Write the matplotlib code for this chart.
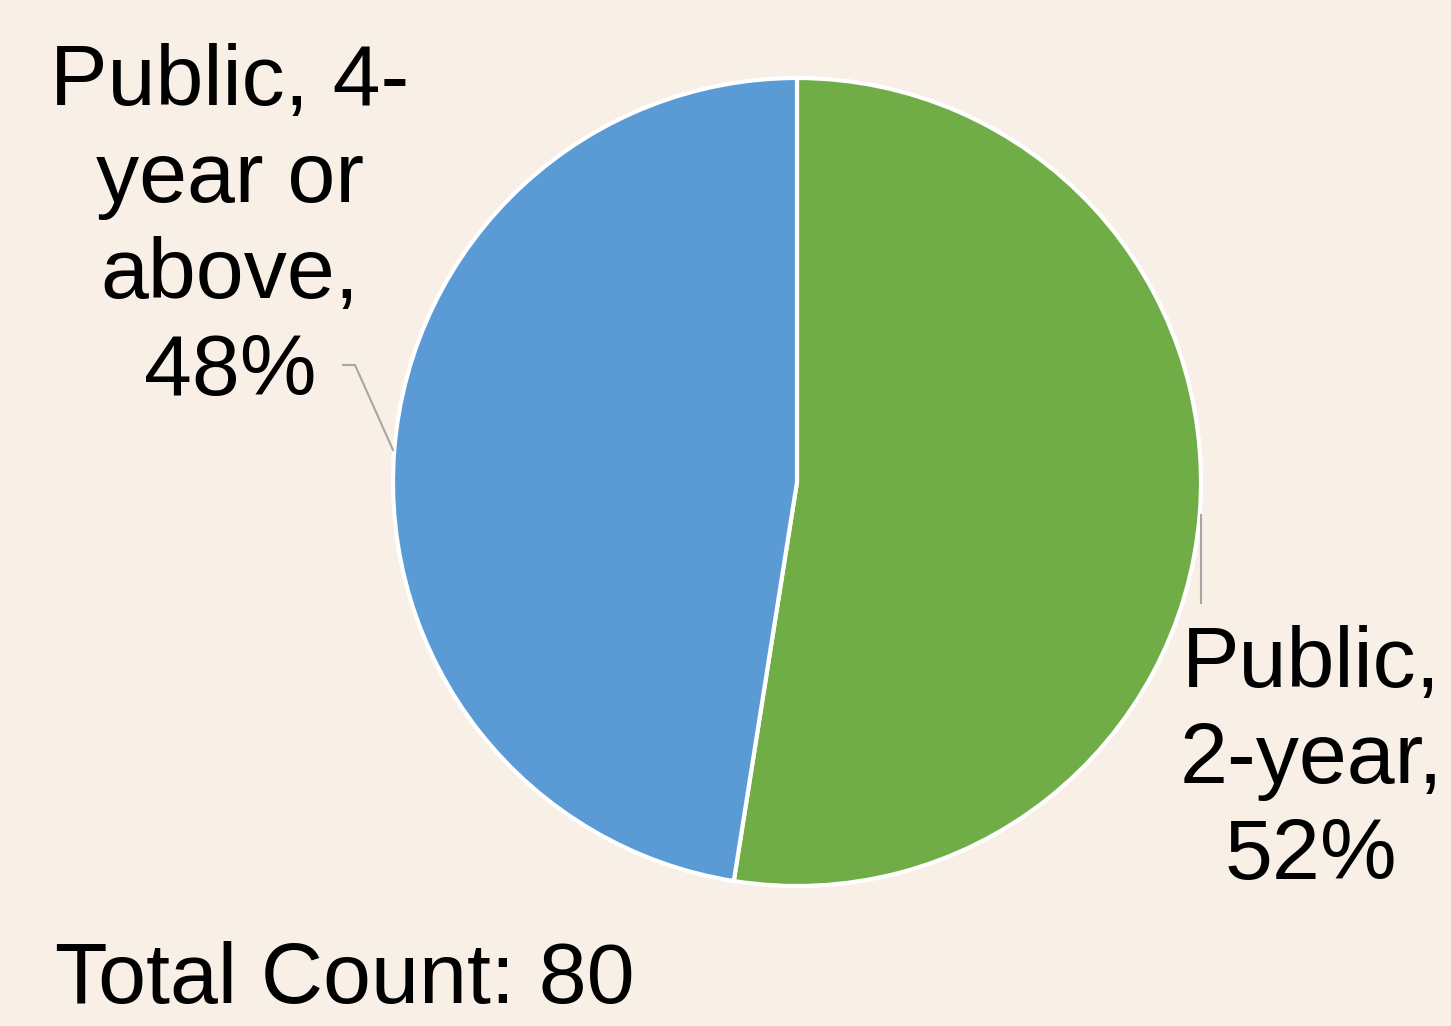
import matplotlib.pyplot as plt

plt.rcParams['font.family'] = ['Liberation Sans', 'DejaVu Sans']

labels = ["Public, 2-year", "Public, 4-year or above"]
counts = [42, 38]
colors = ['#70AD47', '#5B9BD5']
total = sum(counts)
pcts = [round(100 * c / total) for c in counts]

W, H = 1451, 1026
fig = plt.figure(figsize=(W / 100, H / 100), dpi=100)
fig.patch.set_facecolor('#F8F0E7')
ax = fig.add_axes([0, 0, 1, 1])

# pie centre / radius in pixels (y up)
cx, cy, r = 797, H - 482, 404
ax.pie(counts, colors=colors, startangle=90, counterclock=False,
       center=(cx, cy), radius=r, frame=True,
       wedgeprops=dict(edgecolor='white', linewidth=3))
ax.set_xlim(0, W)
ax.set_ylim(0, H)
ax.set_aspect('equal')
ax.axis('off')

fs = 62
ax.text(230, H - 228, "Public, 4-\nyear or\nabove,\n%d%%" % pcts[1],
        ha='center', va='center', fontsize=fs, linespacing=1.27)
ax.text(1311, H - 761, "Public,\n2-year,\n%d%%" % pcts[0],
        ha='center', va='center', fontsize=fs, linespacing=1.26)

# leader lines
ax.plot([343, 355, 393], [H - 365, H - 365, H - 450], color='#A6A6A6', lw=1.5)
ax.plot([1201, 1201], [H - 515, H - 603], color='#A6A6A6', lw=1.5)

ax.text(55, H - 1003, "Total Count: %d" % total, ha='left', va='baseline',
        fontsize=fs)

fig.savefig('out.png', dpi=100, facecolor=fig.get_facecolor())
